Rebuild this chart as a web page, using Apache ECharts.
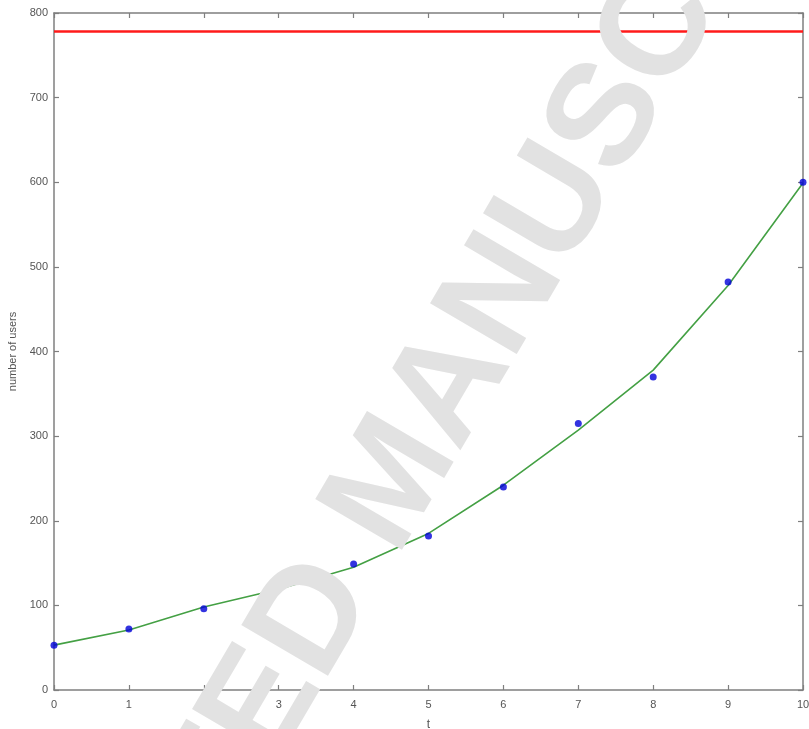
<!DOCTYPE html>
<html>
<head>
<meta charset="utf-8">
<script src="https://cdn.jsdelivr.net/npm/echarts@6/dist/echarts.min.js"></script>
<style>
  html, body { margin: 0; padding: 0; background: #fff; }
  #chart { width: 809px; height: 729px; }
</style>
</head>
<body>
<div id="chart"></div>
<script>
// time steps
const tValues = [0, 1, 2, 3, 4, 5, 6, 7, 8, 9, 10];
// observed number of users
const observed = [53, 72, 96, 121, 149, 182, 240, 315, 370, 482, 600];
// fitted curve
const fitted = [53, 71, 98, 119, 145, 185, 242, 307, 378, 478, 599];
// carrying capacity level
const capacity = 778;
const capacitySpan = [0, 10];

const axisGray = '#7f7f7f';
const labelGray = '#555555';
const font = 'Liberation Sans, Arial, sans-serif';

const chart = echarts.init(document.getElementById('chart'), null, { renderer: 'canvas' });

const baseAxis = {
  axisLine: { show: true, onZero: false, lineStyle: { color: axisGray, width: 1.5 } },
  axisTick: { show: true, inside: true, length: 5, lineStyle: { color: axisGray, width: 1.2 } },
  splitLine: { show: false }
};

chart.setOption({
  animation: false,
  backgroundColor: '#fff',
  grid: { left: 54, right: 6, top: 13, bottom: 39, containLabel: false, outerBoundsMode: 'none' },
  xAxis: [
    Object.assign({}, baseAxis, {
      type: 'value', min: 0, max: 10, interval: 1, position: 'bottom',
      name: 't', nameLocation: 'middle', nameGap: 29,
      nameTextStyle: { color: labelGray, fontSize: 12, fontFamily: font },
      axisLabel: { color: labelGray, fontSize: 11, fontFamily: font, margin: 9 }
    }),
    Object.assign({}, baseAxis, {
      type: 'value', min: 0, max: 10, interval: 1, position: 'top',
      axisLabel: { show: false }
    })
  ],
  yAxis: [
    Object.assign({}, baseAxis, {
      type: 'value', min: 0, max: 800, interval: 100, position: 'left',
      name: 'number of users', nameLocation: 'middle', nameGap: 26, nameRotate: 90,
      nameTextStyle: { color: labelGray, fontSize: 11, fontFamily: font },
      axisLabel: { color: labelGray, fontSize: 11, fontFamily: font, margin: 6 }
    }),
    Object.assign({}, baseAxis, {
      type: 'value', min: 0, max: 800, interval: 100, position: 'right',
      axisLabel: { show: false }
    })
  ],
  series: [
    {
      type: 'line',
      data: capacitySpan.map(t => [t, capacity]),
      showSymbol: false,
      lineStyle: { color: '#ff1a1a', width: 2.5 },
      z: 3
    },
    {
      type: 'line',
      data: tValues.map((t, i) => [t, fitted[i]]),
      showSymbol: false,
      lineStyle: { color: '#44a044', width: 1.6 },
      z: 4
    },
    {
      type: 'scatter',
      data: tValues.map((t, i) => [t, observed[i]]),
      symbol: 'circle',
      symbolSize: 7,
      itemStyle: { color: '#0000d8' },
      z: 5
    }
  ],
  graphic: [
    {
      type: 'text',
      x: 395,
      y: 482,
      rotation: 1.04,
      z: 100,
      style: {
        text: 'ACCEPTED MANUSCRIPT',
        fontSize: 146,
        fontWeight: 'bold',
        fontFamily: font,
        fill: '#e2e2e2',
        align: 'center',
        verticalAlign: 'middle'
      }
    }
  ]
});
</script>
</body>
</html>
